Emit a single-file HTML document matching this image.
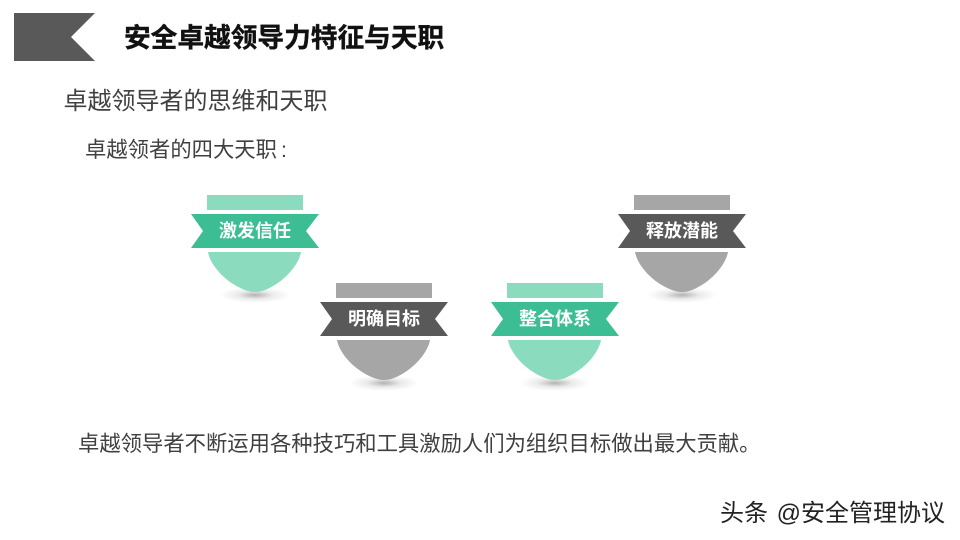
<!DOCTYPE html>
<html><head><meta charset="utf-8">
<style>
html,body{margin:0;padding:0;background:#fff}
#p{position:relative;width:960px;height:540px;overflow:hidden;background:#fff;font-family:"Liberation Sans","Noto Sans CJK SC",sans-serif}
.t{position:absolute;white-space:nowrap;line-height:1;letter-spacing:0}
svg{position:absolute;left:0;top:0}
</style></head><body><div id="p">
<svg width="960" height="540" viewBox="0 0 960 540">
<defs>
<radialGradient id="sh" cx="50%" cy="50%" r="50%"><stop offset="0" stop-color="#000" stop-opacity=".3"/><stop offset=".5" stop-color="#000" stop-opacity=".08"/><stop offset="1" stop-color="#000" stop-opacity="0"/></radialGradient>
<g id="b">
<ellipse cx="255" cy="295" rx="35" ry="8" fill="url(#sh)"/>
<path d="M208 252H301C299 264 285 282 265 290Q255 294 245 290C224 282 210 264 208 252Z" fill="var(--l)"/>
<rect x="207" y="195" width="96" height="15" fill="var(--l)"/>
<path d="M191 214H319L306 231L319 248H191L203 231Z" fill="var(--d)"/>
</g>
</defs>
<path d="M14 13H95L71 37L95 61H14Z" fill="#595959"/>
<use href="#b" style="--l:#8bdbbe;--d:#3dbd93"/>
<use href="#b" x="129" y="88" style="--l:#a6a6a6;--d:#595959"/>
<use href="#b" x="300" y="88" style="--l:#8bdbbe;--d:#3dbd93"/>
<use href="#b" x="427" style="--l:#a6a6a6;--d:#595959"/>
</svg>
<div class="t" style="left:124px;top:25px;font-size:26.7px;font-weight:700;color:#111;-webkit-text-stroke:.4px #111">安全卓越领导力特征与天职</div>
<div class="t" style="left:63.5px;top:90px;font-size:24px;color:#404040">卓越领导者的思维和天职</div>
<div class="t" style="left:85px;top:140px;font-size:21.33px;color:#404040">卓越领者的四大天职<span style="margin-left:4px">:</span></div>
<div class="t" style="left:219px;top:222px;font-size:18px;font-weight:700;color:#fff">激发信任</div>
<div class="t" style="left:348px;top:310px;font-size:18px;font-weight:700;color:#fff">明确目标</div>
<div class="t" style="left:519px;top:310px;font-size:18px;font-weight:700;color:#fff">整合体系</div>
<div class="t" style="left:646px;top:222px;font-size:18px;font-weight:700;color:#fff">释放潜能</div>
<div class="t" style="left:78px;top:434px;font-size:21.33px;color:#404040">卓越领导者不断运用各种技巧和工具激励人们为组织目标做出最大贡献。</div>
<div class="t" style="left:720px;top:502px;font-size:24px;color:#222;word-spacing:2px">头条 @安全管理协议</div>
</div></body></html>
